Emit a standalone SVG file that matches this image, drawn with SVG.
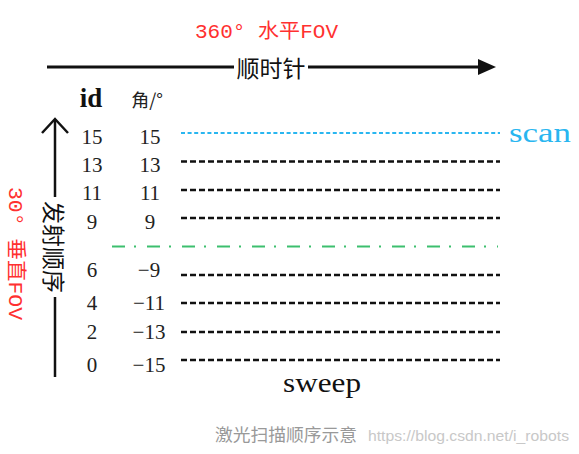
<svg xmlns="http://www.w3.org/2000/svg" width="579" height="454" viewBox="0 0 579 454">
<style>
.num{font-family:"Liberation Serif",serif;font-size:21px;fill:#222;text-anchor:middle;dominant-baseline:central}
.cjk{font-family:"Noto Sans CJK SC",sans-serif;fill:#111}
.red{font-family:"Liberation Mono","Noto Sans CJK SC",monospace;fill:#ff3030;font-size:20px}
.blk{stroke:#111;stroke-width:2.5;stroke-dasharray:6 3;fill:none}
</style>
<rect width="579" height="454" fill="#fff"/>
<g id="title-h">
<text class="red" x="195" y="38" textLength="143" lengthAdjust="spacingAndGlyphs">360° 水平FOV</text>
</g>
<g id="title-v">
<text class="red" transform="translate(9,187) rotate(90)" x="0" y="0" textLength="133" lengthAdjust="spacingAndGlyphs">30° 垂直FOV</text>
</g>
<g id="connectors">
<line x1="47" y1="67" x2="234" y2="67" stroke="#111" stroke-width="3"/>
<line x1="308" y1="67" x2="480" y2="67" stroke="#111" stroke-width="3"/>
<polygon points="478,59 496,67 478,75" fill="#111"/>
<line x1="55" y1="120" x2="55" y2="197" stroke="#111" stroke-width="2.5"/>
<line x1="55" y1="297" x2="55" y2="377" stroke="#111" stroke-width="2.5"/>
<polyline points="42,133 55,119 68,133" fill="none" stroke="#111" stroke-width="2.5"/>
<line x1="181" y1="133" x2="500" y2="133" stroke="#29b6f0" stroke-width="2" stroke-dasharray="4 2.6"/>
<line class="blk" x1="181" y1="161.5" x2="500" y2="161.5"/>
<line class="blk" x1="181" y1="190" x2="500" y2="190"/>
<line class="blk" x1="181" y1="218" x2="500" y2="218"/>
<line x1="112" y1="246.5" x2="498" y2="246.5" stroke="#3cbf6e" stroke-width="2" stroke-dasharray="13 9 2 11"/>
<line class="blk" x1="181" y1="275" x2="500" y2="275"/>
<line class="blk" x1="181" y1="303" x2="500" y2="303"/>
<line class="blk" x1="181" y1="332" x2="500" y2="332"/>
<line class="blk" x1="181" y1="360" x2="500" y2="360"/>
</g>
<g id="label-cw">
<text class="cjk" x="271" y="67" font-size="23" text-anchor="middle" dominant-baseline="central">顺时针</text>
</g>
<g id="label-order">
<text class="cjk" transform="translate(55,247) rotate(90)" x="0" y="0" font-size="23" text-anchor="middle" dominant-baseline="central">发射顺序</text>
</g>
<g id="header">
<text x="91" y="107" font-family="Liberation Serif,serif" font-size="27" font-weight="bold" fill="#111" text-anchor="middle">id</text>
<text x="147" y="99" font-family="Noto Sans CJK SC,sans-serif" font-size="18" fill="#222" text-anchor="middle" dominant-baseline="central">角/°</text>
</g>
<g id="ids">
<text class="num" x="92" y="137">15</text>
<text class="num" x="92" y="165">13</text>
<text class="num" x="92" y="193">11</text>
<text class="num" x="92" y="221.5">9</text>
<text class="num" x="92" y="270">6</text>
<text class="num" x="92" y="303">4</text>
<text class="num" x="92" y="331.5">2</text>
<text class="num" x="92" y="365">0</text>
</g>
<g id="angles">
<text class="num" x="150" y="137">15</text>
<text class="num" x="150" y="165">13</text>
<text class="num" x="150" y="193">11</text>
<text class="num" x="150" y="221.5">9</text>
<text class="num" x="149" y="270">−9</text>
<text class="num" x="149" y="303">−11</text>
<text class="num" x="149" y="331.5">−13</text>
<text class="num" x="149" y="365">−15</text>
</g>
<g id="scan">
<text x="509" y="142" font-family="Liberation Serif,serif" font-size="27" fill="#29b6f0" textLength="62" lengthAdjust="spacingAndGlyphs">scan</text>
</g>
<g id="sweep">
<text x="283" y="392" font-family="Liberation Serif,serif" font-size="28" fill="#111" textLength="78" lengthAdjust="spacingAndGlyphs">sweep</text>
</g>
<g id="watermark">
<text x="215" y="441" font-family="Noto Sans CJK SC,sans-serif" font-size="17.5" fill="#999" textLength="142" lengthAdjust="spacingAndGlyphs">激光扫描顺序示意</text>
<text x="368" y="441" font-family="Liberation Sans,sans-serif" font-size="15" fill="#c8c8c8" textLength="201" lengthAdjust="spacingAndGlyphs">https://blog.csdn.net/i_robots</text>
</g>
</svg>
